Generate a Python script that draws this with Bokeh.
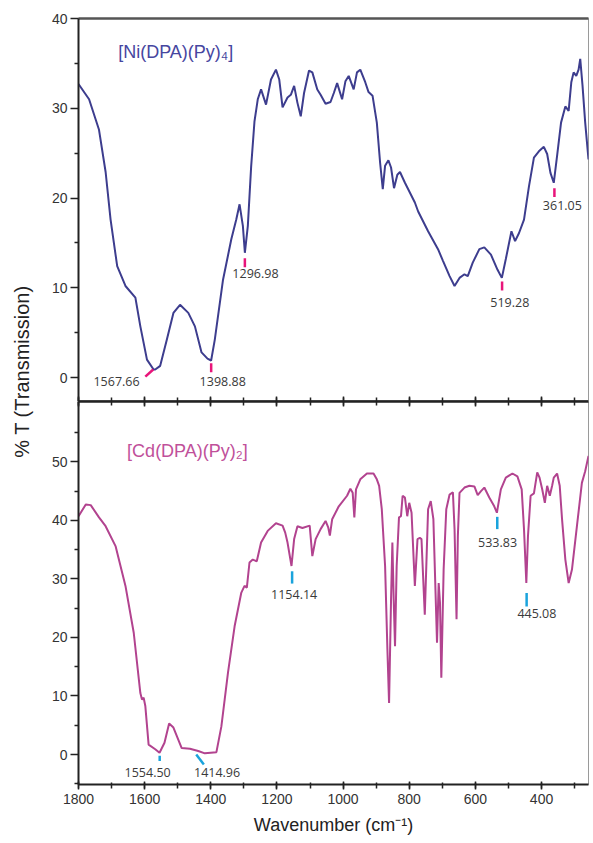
from bokeh.plotting import figure
from bokeh.models import Range1d, LinearAxis, SingleIntervalTicker, FixedTicker
from bokeh.layouts import column, row
from bokeh.embed import file_html
from bokeh.resources import INLINE
from bokeh.core.properties import value
import math

# ---------------- data ----------------
ni_wn = [1800, 1768, 1738, 1718, 1703, 1683, 1658, 1628, 1613, 1593, 1573, 1568, 1553, 1533,
         1513, 1493, 1468, 1448, 1428, 1410, 1399, 1388, 1363, 1338, 1323, 1313, 1303, 1297,
         1288, 1278, 1268, 1258, 1248, 1233, 1218, 1203, 1193, 1183, 1168, 1158, 1148, 1138,
         1128, 1118, 1103, 1093, 1078, 1068, 1053, 1038, 1028, 1018, 1003, 993, 983, 968, 958,
         948, 933, 923, 911, 898, 888, 880, 873, 863, 855, 846, 836, 828, 813, 783, 773, 743,
         713, 698, 678, 663, 648, 633, 623, 608, 588, 573, 553, 533, 520, 508, 491, 480, 468,
         453, 438, 423, 408, 393, 383, 373, 363, 353, 341, 328, 318, 310, 303, 295, 288, 283,
         276, 268, 258]
ni_t = [32.7, 31.0, 27.6, 22.9, 17.6, 12.4, 10.2, 8.9, 5.7, 2.0, 0.9, 0.9, 1.3, 4.2,
        7.2, 8.1, 7.2, 5.7, 2.8, 2.1, 1.9, 4.2, 10.9, 15.4, 17.6, 19.3, 16.9, 13.9,
        16.9, 23.5, 28.5, 31.0, 32.1, 30.4, 33.2, 34.3, 33.2, 30.1, 31.2, 31.5, 32.5, 30.6,
        29.1, 31.7, 34.2, 34.0, 32.1, 31.5, 30.5, 30.7, 31.7, 32.8, 31.0, 33.0, 33.6, 32.1, 34.0,
        34.3, 32.9, 31.8, 31.4, 28.4, 23.9, 21.0, 23.6, 24.2, 23.4, 21.1, 22.6, 22.9, 21.7, 19.5, 18.5, 16.3,
        14.3, 13.0, 11.3, 10.2, 11.1, 11.5, 11.3, 12.8, 14.3, 14.5, 13.7, 12.0, 11.1, 13.2, 16.3, 15.2, 16.1,
        17.6, 21.3, 24.5, 25.2, 25.7, 24.9, 22.8, 21.7, 24.7, 28.4, 30.2, 29.7, 32.9, 34.0, 33.6, 34.3, 35.5,
        32.5, 28.4, 24.3]

cd_wn = [1800, 1778, 1763, 1738, 1718, 1688, 1658, 1633, 1613, 1608, 1603, 1598, 1588, 1568,
         1555, 1540, 1526, 1513, 1488, 1463, 1438, 1418, 1383, 1368, 1348, 1328, 1308, 1298,
         1291, 1283, 1273, 1261, 1248, 1228, 1203, 1183, 1175, 1168, 1156, 1148, 1138, 1123,
         1101, 1093, 1083, 1068, 1053, 1045, 1040, 1033, 1013, 988, 978, 971, 966, 961, 948,
         928, 908, 898, 891, 883, 873, 866, 861, 855, 851, 847, 843, 838, 831, 825, 820, 813,
         806, 800, 793, 783, 775, 768, 763, 753, 743, 735, 727, 716, 711, 707, 703, 696, 688,
         678, 668, 663, 657, 653, 648, 633, 618, 603, 593, 583, 573, 558, 543, 535, 523, 508,
         488, 473, 460, 453, 446, 441, 433, 423, 413, 406, 398, 390, 383, 375, 368, 363, 353,
         345, 338, 328, 318, 308, 293, 278, 268, 258]
cd_t = [40.7, 42.7, 42.6, 40.5, 39.0, 35.6, 28.8, 20.8, 10.5, 9.4, 9.7, 8.3, 1.7, 0.9,
        0.3, 2.0, 5.3, 4.6, 1.1, 1.0, 0.6, 0.2, 0.4, 4.8, 14.0, 21.9, 27.6, 28.8,
        28.5, 32.8, 33.3, 33.0, 36.2, 38.2, 39.5, 39.1, 37.9, 36.2, 32.2, 36.8, 39.0, 38.7,
        39.1, 33.9, 36.8, 38.5, 39.9, 38.8, 37.4, 40.2, 42.4, 44.2, 45.4, 44.7, 40.5, 45.3, 47.0,
        48.0, 48.0, 47.0, 45.9, 41.9, 32.2, 17.9, 8.8, 26.5, 36.2, 26.5, 18.5, 32.2, 40.5, 40.7, 44.2, 43.9,
        40.7, 43.0, 41.3, 28.8, 36.8, 37.0, 36.8, 23.9, 41.9, 43.3, 40.2, 19.1, 29.3, 25.9, 13.1, 31.6, 41.9,
        44.4, 44.8, 38.5, 23.1, 37.3, 44.7, 45.6, 45.9, 45.8, 44.3, 45.0, 45.6, 43.9, 42.4, 41.3, 45.3, 47.3,
        48.0, 47.5, 45.3, 38.5, 29.3, 37.3, 44.2, 44.6, 48.2, 47.3, 45.3, 43.0, 45.9, 44.2, 45.9, 47.3, 48.0,
        45.9, 40.2, 33.3, 29.3, 31.6, 39.0, 46.4, 48.4, 51.0]

# peak annotations
ni_peak_labels = ["1567.66", "1398.88", "1296.98", "519.28", "361.05"]
ni_tick_x0 = [1598, 1398.88, 1296.98, 519.28, 361.05]
ni_tick_x1 = [1574, 1398.88, 1296.98, 519.28, 361.05]
ni_tick_y0 = [0.1, 1.6, 13.3, 10.7, 21.1]
ni_tick_y1 = [0.9, 0.6, 12.3, 9.7, 20.1]
ni_label_x = [1685, 1364, 1265, 496, 337]
ni_label_y = [-0.45, -0.4, 11.6, 8.4, 19.2]

cd_peak_labels = ["1554.50", "1414.96", "1154.14", "533.83", "445.08"]
cd_tick_x0 = [1554.50, 1444, 1154.14, 533.83, 445.08]
cd_tick_x1 = [1554.50, 1421, 1154.14, 533.83, 445.08]
cd_tick_y0 = [-0.2, 0.0, 31.3, 40.6, 27.6]
cd_tick_y1 = [-1.1, -1.7, 29.2, 38.5, 25.3]
cd_label_x = [1591, 1381, 1148, 533, 414]
cd_label_y = [-3.1, -3.1, 27.4, 36.3, 24.1]

ni_title = "[Ni(DPA)(Py)\u2084]"
cd_title = "[Cd(DPA)(Py)\u2082]"
x_label = "Wavenumber (cm\u207b\u00b9)"
y_label = "% T (Transmission)"

NI_COLOR = "#3d3d8e"
CD_COLOR = "#b2438f"
NI_MARK = "#e8157a"
CD_MARK = "#1aa3dc"
FONT = "Liberation Sans"
NUM_FONT = "Open Sans"

xr = Range1d(1800, 258)

LBL_W = 48
FIG_W = 542
TOP_H = 401
BOT_H = 438

def style_common(p):
    p.xgrid.visible = False
    p.ygrid.visible = False
    p.outline_line_color = "#9a9a9a"
    p.outline_line_width = 1
    p.background_fill_color = "white"
    p.border_fill_color = "white"

def style_left(ax, ticks, minor):
    ax.ticker = FixedTicker(ticks=ticks, minor_ticks=minor)
    ax.axis_line_width = 2
    ax.axis_line_color = "#222222"
    ax.major_tick_line_color = "#222222"
    ax.minor_tick_line_color = "#222222"
    ax.major_tick_line_width = 1.5
    ax.minor_tick_line_width = 1.5
    ax.major_tick_out = 8
    ax.major_tick_in = 0
    ax.minor_tick_out = 4
    ax.minor_tick_in = 0
    ax.major_label_standoff = 3
    ax.major_label_text_font = FONT
    ax.major_label_text_font_size = "14px"
    ax.major_label_text_color = "#333333"

def mid_axis():
    ax = LinearAxis(ticker=SingleIntervalTicker(interval=200, num_minor_ticks=2))
    ax.major_label_text_font_size = "0px"
    ax.major_label_text_color = None
    ax.major_label_standoff = 0
    ax.major_tick_in = 5
    ax.major_tick_out = 0
    ax.minor_tick_in = 4
    ax.minor_tick_out = 0
    ax.axis_line_width = 2.5
    ax.axis_line_color = "#222222"
    ax.major_tick_line_width = 1.5
    ax.minor_tick_line_width = 1.5
    ax.major_tick_line_color = "#222222"
    ax.minor_tick_line_color = "#222222"
    return ax

# ---------------- top panel ----------------
p1 = figure(width=FIG_W, height=TOP_H, x_range=xr, y_range=Range1d(-2.67, 40),
            output_backend="svg", toolbar_location=None, x_axis_location=None,
            min_border_left=29, min_border_right=2, min_border_top=18, min_border_bottom=0)
style_common(p1)
style_left(p1.yaxis[0], [0, 10, 20, 30, 40], [5, 15, 25, 35])
p1.add_layout(mid_axis(), "below")
top_ax = LinearAxis(ticker=FixedTicker(ticks=[]))
top_ax.axis_line_width = 2.5
top_ax.axis_line_color = "#555555"
top_ax.major_label_text_font_size = "0px"
top_ax.major_label_text_color = None
top_ax.major_label_standoff = 0
top_ax.major_tick_out = 0
top_ax.minor_tick_out = 0
p1.add_layout(top_ax, "above")

p1.line(ni_wn, ni_t, line_color=NI_COLOR, line_width=2)
p1.segment(x0=ni_tick_x0, y0=ni_tick_y0, x1=ni_tick_x1, y1=ni_tick_y1,
           line_color=NI_MARK, line_width=2.5)
p1.text(x=ni_label_x, y=ni_label_y, text=ni_peak_labels, text_font=value(NUM_FONT),
        text_font_size="12.5px", text_color="#3a3a3a", text_align="center", text_baseline="middle")
p1.text(x=[1680], y=[36.3], text=[ni_title], text_font=value(FONT), text_font_size="18px",
        text_color="#4646a0", text_align="left", text_baseline="middle")

# ---------------- bottom panel ----------------
p2 = figure(width=FIG_W, height=BOT_H, x_range=xr, y_range=Range1d(-5.12, 60.3),
            output_backend="svg", toolbar_location=None,
            min_border_left=29, min_border_right=2, min_border_top=0, min_border_bottom=55)
style_common(p2)
style_left(p2.yaxis[0], [0, 10, 20, 30, 40, 50], [-5, 5, 15, 25, 35, 45, 55])
bx = p2.xaxis[0]
bx.ticker = SingleIntervalTicker(interval=200, num_minor_ticks=2)
bx.axis_line_width = 2
bx.axis_line_color = "#222222"
bx.major_tick_line_color = "#222222"
bx.minor_tick_line_color = "#222222"
bx.major_tick_line_width = 1.5
bx.minor_tick_line_width = 1.5
bx.major_tick_in = 3
bx.major_tick_out = 5
bx.minor_tick_in = 2
bx.minor_tick_out = 4
bx.major_label_standoff = 4
bx.major_label_text_font = FONT
bx.major_label_text_font_size = "14px"
bx.major_label_text_color = "#333333"
bx.axis_label = x_label
bx.axis_label_text_font = FONT
bx.axis_label_text_font_size = "18px"
bx.axis_label_text_font_style = "normal"
bx.axis_label_text_color = "#222222"
bx.axis_label_standoff = 8
p2.add_layout(mid_axis(), "above")

p2.line(cd_wn, cd_t, line_color=CD_COLOR, line_width=2)
p2.segment(x0=cd_tick_x0, y0=cd_tick_y0, x1=cd_tick_x1, y1=cd_tick_y1,
           line_color=CD_MARK, line_width=2.5)
p2.text(x=cd_label_x, y=cd_label_y, text=cd_peak_labels, text_font=value(NUM_FONT),
        text_font_size="12.5px", text_color="#3a3a3a", text_align="center", text_baseline="middle")
p2.text(x=[1653], y=[51.8], text=[cd_title], text_font=value(FONT), text_font_size="18px",
        text_color="#c0509a", text_align="left", text_baseline="middle")

# ---------------- shared y label ----------------
TOT_H = TOP_H + BOT_H
pl = figure(width=LBL_W, height=TOT_H, x_range=Range1d(0, LBL_W), y_range=Range1d(0, TOT_H),
            output_backend="svg", toolbar_location=None,
            x_axis_location=None, y_axis_location=None,
            min_border_left=0, min_border_right=0, min_border_top=0, min_border_bottom=0)
pl.xgrid.visible = False
pl.ygrid.visible = False
pl.outline_line_color = None
pl.text(x=[21], y=[TOT_H - 371], text=[y_label], angle=math.pi / 2, text_font=value(FONT),
        text_font_size="20px", text_color="#222222", text_align="center", text_baseline="middle")

layout = row(pl, column(p1, p2, spacing=0), spacing=0)
open("out.html", "w").write(file_html(layout, INLINE))
